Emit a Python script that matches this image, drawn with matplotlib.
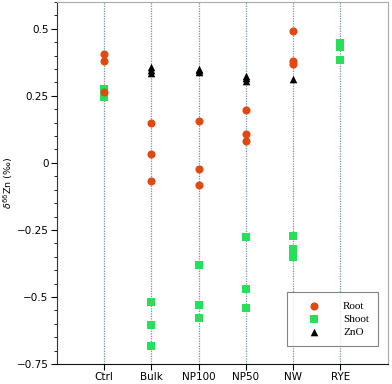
import numpy as np
import matplotlib.pyplot as plt
from matplotlib.ticker import MultipleLocator

# Data (delta66Zn, permil)
categories = ['Ctrl', 'Bulk', 'NP100', 'NP50', 'NW', 'RYE']

root = {
    'Ctrl': [0.405, 0.379, 0.263],
    'Bulk': [0.149, 0.034, -0.069],
    'NP100': [0.157, -0.023, -0.081],
    'NP50': [0.197, 0.109, 0.082],
    'NW': [0.490, 0.380, 0.368],
    'RYE': [],
}
shoot = {
    'Ctrl': [0.275, 0.247],
    'Bulk': [-0.519, -0.604, -0.684],
    'NP100': [-0.381, -0.529, -0.580],
    'NP50': [-0.276, -0.472, -0.542],
    'NW': [-0.272, -0.322, -0.352],
    'RYE': [0.448, 0.432, 0.385],
}
zno = {
    'Ctrl': [],
    'Bulk': [0.356, 0.345, 0.335],
    'NP100': [0.350, 0.345, 0.340],
    'NP50': [0.325, 0.315, 0.305],
    'NW': [0.312],
    'RYE': [],
}

yticks = [0.5, 0.25, 0, -0.25, -0.5, -0.75]
ytick_labels = ['0.5', '0.25', '0', '\u22120.25', '\u22120.5', '\u22120.75']

fig = plt.figure(figsize=(3.92, 3.84), dpi=100)
ax = fig.add_axes([0.145, 0.052, 0.844, 0.943])

x = np.arange(1, len(categories) + 1)

for xi in x:
    ax.axvline(xi, color='#6a9aa6', linestyle=(0, (1, 1)), linewidth=0.9, zorder=1)

def pts(d):
    xs, ys = [], []
    for i, c in enumerate(categories):
        for v in d[c]:
            xs.append(x[i])
            ys.append(v)
    return xs, ys

xs, ys = pts(zno)
ax.scatter(xs, ys, marker='^', s=30, color='black', zorder=3, label='ZnO', linewidths=0)
xs, ys = pts(shoot)
ax.scatter(xs, ys, marker='s', s=28, color='#27e05a', zorder=3, label='Shoot', linewidths=0)
xs, ys = pts(root)
ax.scatter(xs, ys, marker='o', s=34, color='#e04a10', zorder=4, label='Root', linewidths=0)

ax.set_xlim(0, 7)
ax.set_ylim(-0.75, 0.6)
ax.set_xticks(x)
ax.set_xticklabels(categories, fontsize=7.5)
ax.set_yticks(yticks)
ax.set_yticklabels(ytick_labels, fontsize=7.5)
ax.yaxis.set_minor_locator(MultipleLocator(0.05))
ax.tick_params(axis='both', which='major', direction='out', length=4, width=0.8, pad=2)
ax.tick_params(axis='y', which='minor', direction='out', length=2.5, width=0.6)

ax.spines['left'].set_color('#333333')
ax.spines['bottom'].set_color('#111111')
ax.spines['top'].set_color('#aaaaaa')
ax.spines['right'].set_color('#aaaaaa')

ax.set_ylabel(r'$\delta^{66}$Zn (‰)', fontsize=6.8)
ax.yaxis.set_label_coords(-0.125, 0.5)

handles, labels = ax.get_legend_handles_labels()
order = [2, 1, 0]
leg = ax.legend([handles[i] for i in order], [labels[i] for i in order],
                loc='lower right', bbox_to_anchor=(0.97, 0.05),
                prop={'family': 'Liberation Serif', 'size': 8},
                frameon=True, fancybox=False, edgecolor='#666666',
                borderpad=0.8, handlelength=3.2, handletextpad=1.0,
                labelspacing=0.3, borderaxespad=0)
leg.get_frame().set_linewidth(0.8)

fig.savefig('out.png', dpi=100)
